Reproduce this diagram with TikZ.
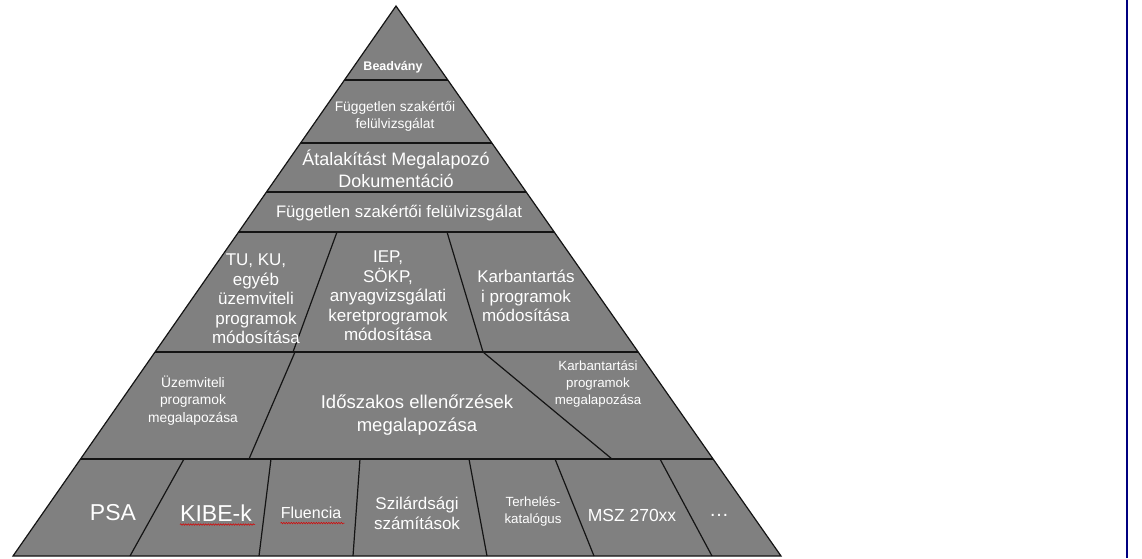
\documentclass[tikz,border=0pt]{standalone}
\usepackage{fontspec}
\setmainfont{Liberation Sans}
\usetikzlibrary{decorations.pathmorphing}
\definecolor{pyrgray}{RGB}{128,128,128}
\definecolor{edgecol}{RGB}{20,20,20}
\definecolor{navyline}{RGB}{0,0,128}
\begin{document}
\begin{tikzpicture}[x=1pt,y=-1pt,
  lbl/.style={text=white, align=center, inner sep=0pt},
  divline/.style={draw=edgecol, line width=1.2pt},
  squig/.style={draw=red!85!black, line width=0.5pt, decorate, decoration={snake, amplitude=0.8pt, segment length=2.5pt}}]
\useasboundingbox (0,0) rectangle (1142,558);
\coordinate (apex) at (396,6);
\coordinate (bl) at (13,556);
\coordinate (br) at (781,556);
\fill[pyrgray] (apex) -- (bl) -- (br) -- cycle;
\begin{scope}
  \clip (apex) -- (bl) -- (br) -- cycle;
  \foreach \y in {80,143,192,232,352,459} \draw[divline] (0,\y) -- (800,\y);
  % row 232-352
  \draw[divline] (337,232) -- (293,352);
  \draw[divline] (447,232) -- (483,352);
  % row 352-459
  \draw[divline] (295,352) -- (249,459);
  \draw[divline] (483,352) -- (612,459);
  % bottom row
  \draw[divline] (184,459) -- (130,556);
  \draw[divline] (271,459) -- (259,556);
  \draw[divline] (360,459) -- (353,556);
  \draw[divline] (469,459) -- (487,556);
  \draw[divline] (555,459) -- (594,556);
  \draw[divline] (660,459) -- (712,556);
\end{scope}
\draw[edgecol, line width=1.2pt] (apex) -- (bl) -- (br) -- cycle;
\draw[navyline, line width=1.6pt] (1127,0) -- (1127,558);

\node[lbl, font=\fontsize{12.5}{14}\selectfont\bfseries] (bead) at (393,67) {Beadvány};
\node[lbl, font=\fontsize{13.8}{17}\selectfont] (fsz1) at (395,116.5) {Független szakértői\\felülvizsgálat};
\node[lbl, font=\fontsize{18}{22}\selectfont] (amd) at (396,169) {Átalakítást Megalapozó\\Dokumentáció};
\node[lbl, font=\fontsize{16.7}{19}\selectfont] (fsz2) at (399,213) {Független szakértői felülvizsgálat};
\node[lbl, font=\fontsize{17}{19.5}\selectfont] (tuku) at (256,299) {TU, KU,\\egyéb\\üzemviteli\\programok\\módosítása};
\node[lbl, font=\fontsize{17}{19.5}\selectfont] (iep) at (388,296) {IEP,\\SÖKP,\\anyagvizsgálati\\keretprogramok\\módosítása};
\node[lbl, font=\fontsize{17}{19.5}\selectfont] (karb1) at (526,296) {Karbantartás\\i programok\\módosítása};
\node[lbl, font=\fontsize{13.8}{17.5}\selectfont] (uzem) at (193,400.5) {Üzemviteli\\programok\\megalapozása};
\node[lbl, font=\fontsize{18.5}{23}\selectfont] (idosz) at (417,415.5) {Időszakos ellenőrzések\\megalapozása};
\node[lbl, font=\fontsize{13.3}{17}\selectfont] (karb2) at (598,384) {Karbantartási\\programok\\megalapozása};
\node[lbl, font=\fontsize{23}{26}\selectfont] (psa) at (113,513) {PSA};
\node[lbl, font=\fontsize{23}{26}\selectfont] (kibe) at (216,513) {KIBE-k};
\node[lbl, font=\fontsize{16}{19}\selectfont] (flu) at (311,513) {Fluencia};
\node[lbl, font=\fontsize{17}{20}\selectfont] (szil) at (417,513) {Szilárdsági\\számítások};
\node[lbl, font=\fontsize{13.3}{17}\selectfont] (terh) at (533,511.5) {Terhelés-\\katalógus};
\node[lbl, font=\fontsize{17.5}{20}\selectfont] (msz) at (632,515) {MSZ 270xx};
\node[lbl, font=\fontsize{20}{22}\selectfont] (dots) at (719,515) {\dots};
\draw[squig] (kibe.south west) ++(0,3) -- ++(75,0);
\draw[squig] (flu.south west) ++(0,4) -- ++(64,0);
\end{tikzpicture}
\end{document}
